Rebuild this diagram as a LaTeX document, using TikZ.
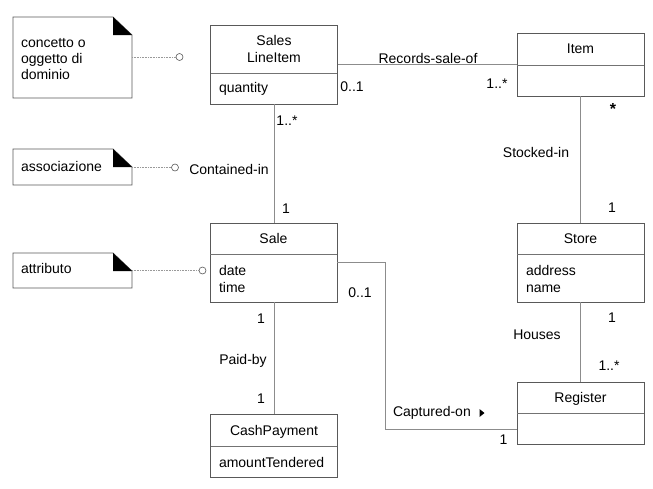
\documentclass[tikz,border=0pt]{standalone}
\usepackage{fontspec}
\setmainfont{Liberation Sans}
\begin{document}
\begin{tikzpicture}[x=1pt,y=-1pt,
  every node/.style={inner sep=0pt,outer sep=0pt},
  txt/.style={font=\fontsize{14}{16}\selectfont,anchor=base},
  txtw/.style={font=\fontsize{14}{16}\selectfont,anchor=base west},
  cls/.style={draw=black!65,line width=0.8pt,rectangle,minimum width=127pt},
  divl/.style={draw=black!55,line width=0.8pt},
  assoc/.style={draw=black!45,line width=0.9pt},
  notel/.style={draw=black!65,line width=0.8pt},
  dots/.style={draw=black!40,line width=0.7pt,dash pattern=on 0.7pt off 0.9pt},
  pin/.style={draw=black!65,line width=0.6pt,circle,minimum size=7pt,fill=white}
]
\useasboundingbox (0,0) rectangle (653,488);

% ---------- classes ----------
\node[cls,minimum height=79pt] (sli) at (274,64.5) {};
\draw[divl] (211,73) -- (337,73);
\node[txt] (sliT1) at (274,45) {Sales};
\node[txt] (sliT2) at (274,62) {LineItem};
\node[txtw] (sliA) at (219,92) {quantity};

\node[cls,minimum height=63pt] (item) at (580.5,64.5) {};
\draw[divl] (517,65) -- (644,65);
\node[txt] (itemT) at (580.5,53) {Item};

\node[cls,minimum height=79pt] (sale) at (273.5,262.5) {};
\draw[divl] (210,254) -- (337,254);
\node[txt] (saleT) at (273.5,243) {Sale};
\node[txtw] (saleA1) at (219,275) {date};
\node[txtw] (saleA2) at (219,292) {time};

\node[cls,minimum height=79pt] (store) at (580.5,262.5) {};
\draw[divl] (517,254) -- (644,254);
\node[txt] (storeT) at (580.5,243) {Store};
\node[txtw] (storeA1) at (526,275) {address};
\node[txtw] (storeA2) at (526,292) {name};

\node[cls,minimum height=62pt] (reg) at (580.5,413) {};
\draw[divl] (517,413) -- (644,413);
\node[txt] (regT) at (580.5,402) {Register};

\node[cls,minimum height=63pt] (cash) at (274,445.5) {};
\draw[divl] (211,446) -- (337,446);
\node[txt] (cashT) at (274,435) {CashPayment};
\node[txtw] (cashA) at (219,467) {amountTendered};

% ---------- associations ----------
\draw[assoc] (sli.east) -- (item.west);
\node[txt] (l1) at (428,63) {Records-sale-of};
\node[txt] (m1) at (352,91) {0..1};
\node[txt] (m2) at (497,88) {1..*};

\draw[assoc] (sli.south) -- (sale.north -| sli.south);
\node[txt] (m3) at (287,125) {1..*};
\node[txt] (l2) at (229,174) {Contained-in};
\node[txt] (m4) at (286,213) {1};

\draw[assoc] (item.south) -- (store.north);
\node[txt,font=\fontsize{16}{16}\selectfont\bfseries] (m5) at (613,114) {*};
\node[txt] (l3) at (536,157) {Stocked-in};
\node[txt] (m6) at (612,212) {1};

\draw[assoc] (store.south) -- (reg.north);
\node[txt] (m7) at (612,322) {1};
\node[txt] (l4) at (537,339) {Houses};
\node[txt] (m8) at (609,370) {1..*};

\draw[assoc] (sale.south -| sli.south) -- (cash.north);
\node[txt] (m9) at (261,323) {1};
\node[txt] (l5) at (243,364) {Paid-by};
\node[txt] (m10) at (261,403) {1};

\coordinate (b1) at (385,262.5);
\coordinate (b2) at (385,429);
\draw[assoc] (sale.east) -- (b1) -- (b2) -- (b2 -| reg.west);
\node[txt] (m11) at (360,297) {0..1};
\node[txtw] (l6) at (393,416) {Captured-on};
\fill[black] (479.5,409) -- (484.5,413) -- (479.5,417) -- cycle;
\node[txt] (m12) at (503.5,444) {1};

% ---------- notes ----------
\node (n1) at (72.5,57.5) [minimum width=119pt,minimum height=81pt] {};
\draw[notel] (n1.north west) -- ([xshift=-19pt]n1.north east) -- ([yshift=-18pt]n1.north east) -- (n1.south east) -- (n1.south west) -- cycle;
\fill[black] ([xshift=-19pt]n1.north east) -- ([xshift=-19pt,yshift=-18pt]n1.north east) -- ([yshift=-18pt]n1.north east) -- cycle;
\node[txtw] (n1a) at (21,47) {concetto o};
\node[txtw] (n1b) at (21,63) {oggetto di};
\node[txtw] (n1c) at (21,79) {dominio};
\node[pin] (p1) at (179.5,57) {};
\draw[dots] (n1.east |- p1) -- (p1.west);

\node (n2) at (72.5,167) [minimum width=119pt,minimum height=36pt] {};
\draw[notel] (n2.north west) -- ([xshift=-19pt]n2.north east) -- ([yshift=-18pt]n2.north east) -- (n2.south east) -- (n2.south west) -- cycle;
\fill[black] ([xshift=-19pt]n2.north east) -- ([xshift=-19pt,yshift=-18pt]n2.north east) -- ([yshift=-18pt]n2.north east) -- cycle;
\node[txtw] (n2a) at (21,171) {associazione};
\node[pin] (p2) at (175,167.5) {};
\draw[dots] (n2.east |- p2) -- (p2.west);

\node (n3) at (72.5,270.5) [minimum width=119pt,minimum height=35pt] {};
\draw[notel] (n3.north west) -- ([xshift=-19pt]n3.north east) -- ([yshift=-18pt]n3.north east) -- (n3.south east) -- (n3.south west) -- cycle;
\fill[black] ([xshift=-19pt]n3.north east) -- ([xshift=-19pt,yshift=-18pt]n3.north east) -- ([yshift=-18pt]n3.north east) -- cycle;
\node[txtw] (n3a) at (21,273) {attributo};
\node[pin] (p3) at (202.5,270.5) {};
\draw[dots] (n3.east |- p3) -- (p3.west);
\end{tikzpicture}
\end{document}
